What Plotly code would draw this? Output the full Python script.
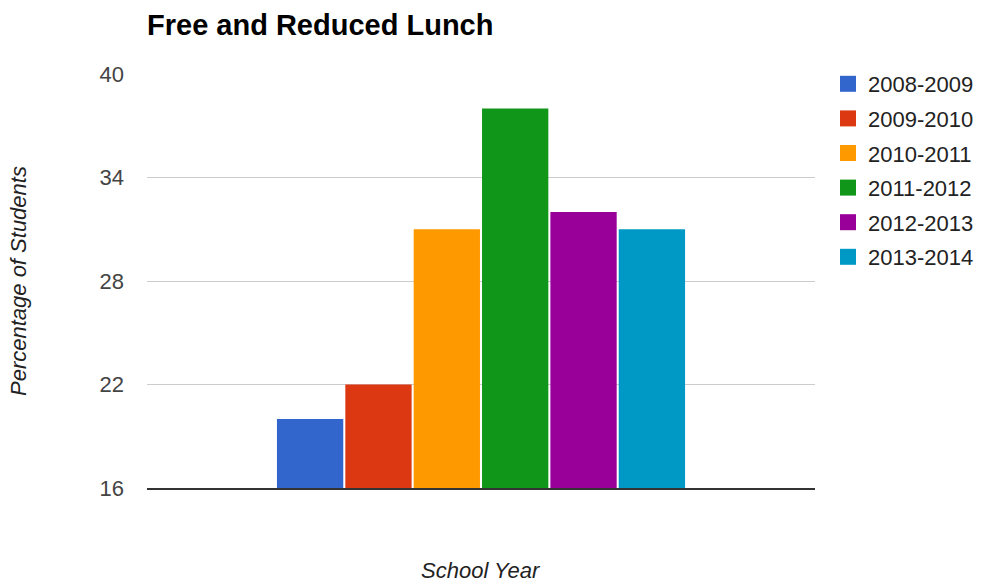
import plotly.graph_objects as go

series = ["2008-2009", "2009-2010", "2010-2011", "2011-2012", "2012-2013", "2013-2014"]
values = [20, 22, 31, 38, 32, 31]
colors = ["#3366cc", "#dc3912", "#ff9900", "#109618", "#990099", "#0099c6"]
category = [""]
y_ticks = [16, 22, 28, 34, 40]

FONT = "Arial, 'Liberation Sans', sans-serif"

fig = go.Figure()
for name, v, c in zip(series, values, colors):
    fig.add_trace(go.Bar(
        x=category, y=[v], name=name, legendgroup=name, showlegend=False,
        marker=dict(color=c, line=dict(width=0)),
    ))
# legend swatches (larger squares, like the reference legend)
for name, c in zip(series, colors):
    fig.add_trace(go.Scatter(
        x=[None], y=[None], mode="markers", name=name, legendgroup=name,
        marker=dict(symbol="square", size=21, color=c), showlegend=True,
    ))

pw, ph = 981 - 147 - 166, 582 - 74 - 94

fig.update_layout(
    width=981, height=582,
    margin=dict(l=147, r=166, t=74, b=94, autoexpand=False),
    paper_bgcolor="white", plot_bgcolor="white",
    barmode="group", bargap=0.386, bargroupgap=0.03,
    font=dict(family=FONT, size=22, color="#444"),
    showlegend=True,
    legend=dict(x=(828 - 147) / pw, xanchor="left", y=(488 - 63) / ph, yanchor="top",
                font=dict(size=22, color="#222"), tracegroupgap=3,
                itemwidth=30, itemsizing="trace"),
    title=dict(text="<b>Free and Reduced Lunch</b>", x=147/981, xanchor="left",
               y=1-25/582, yanchor="middle",
               font=dict(size=29, color="#000", family=FONT)),
    xaxis=dict(showticklabels=False, showgrid=False, showline=True,
               linecolor="#333", linewidth=2, ticks="", zeroline=False),
    yaxis=dict(range=[16, 40], tickvals=y_ticks, showgrid=True,
               gridcolor="#cccccc", gridwidth=1, zeroline=False,
               showline=False, ticks="", ticklabelstandoff=22,
               tickfont=dict(size=22, color="#444")),
    annotations=[
        dict(text="School Year", xref="paper", yref="paper",
             x=(481 - 147) / pw, y=(488 - 570) / ph, xanchor="center", yanchor="middle",
             showarrow=False, font=dict(size=22, color="#222", style="italic")),
        dict(text="Percentage of Students", textangle=-90, xref="paper", yref="paper",
             x=(18 - 147) / pw, y=(488 - 281) / ph, xanchor="center", yanchor="middle",
             showarrow=False, font=dict(size=22, color="#222", style="italic")),
    ],
)

fig.write_html("out.html")
